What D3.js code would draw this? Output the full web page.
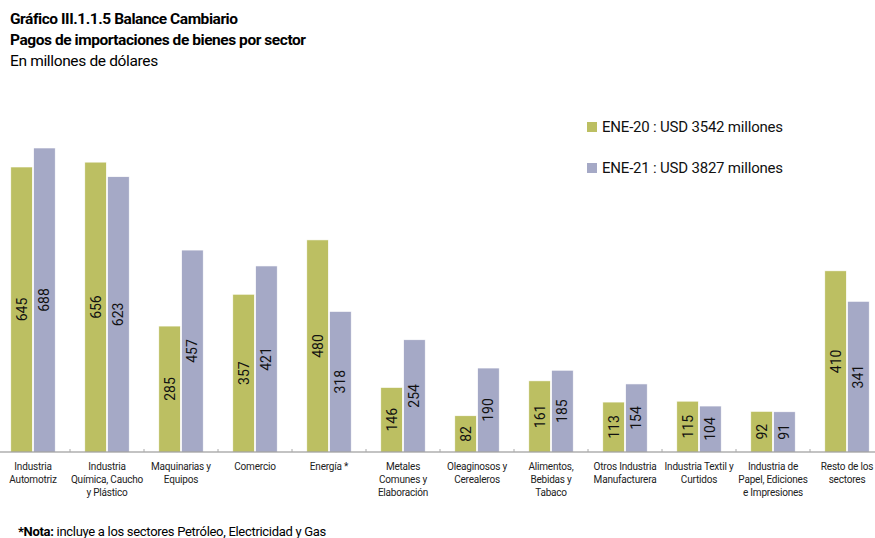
<!DOCTYPE html>
<html>
<head>
<meta charset="utf-8">
<script src="https://d3js.org/d3.v7.min.js"></script>
<style>
  body { margin: 0; background: #fff; }
  svg { display: block; font-family: Roboto, "Liberation Sans", sans-serif; }
</style>
</head>
<body>
<div id="holder"></div>
<script>
  // Data
  const sectors = [
    ['Industria', 'Automotriz'],
    ['Industria', 'Química, Caucho', 'y Plástico'],
    ['Maquinarias y', 'Equipos'],
    ['Comercio'],
    ['Energía *'],
    ['Metales', 'Comunes y', 'Elaboración'],
    ['Oleaginosos y', 'Cerealeros'],
    ['Alimentos,', 'Bebidas y', 'Tabaco'],
    ['Otros Industria', 'Manufacturera'],
    ['Industria Textil y', 'Curtidos'],
    ['Industria de', 'Papel, Ediciones', 'e Impresiones'],
    ['Resto de los', 'sectores']
  ];
  const ene20 = [645, 656, 285, 357, 480, 146, 82, 161, 113, 115, 92, 410];
  const ene21 = [688, 623, 457, 421, 318, 254, 190, 185, 154, 104, 91, 341];
  const seriesNames = ['ENE-20 : USD 3542 millones', 'ENE-21 : USD 3827 millones'];
  const colors = ['#bcbf62', '#a5a9c6'];

  // Variables
  const w = 875;
  const h = 538;
  const baseY = 452;

  const svg = d3.select('#holder').append('svg').attr('width', w).attr('height', h);

  // Titles
  svg.append('text').attr('x', 10).attr('y', 24)
    .style('font-size', '15.5px').style('font-weight', 'bold').style('letter-spacing', '-0.45px')
    .text('Gráfico III.1.1.5 Balance Cambiario');
  svg.append('text').attr('x', 10).attr('y', 45)
    .style('font-size', '15.5px').style('font-weight', 'bold').style('letter-spacing', '-0.45px')
    .text('Pagos de importaciones de bienes por sector');
  svg.append('text').attr('x', 10).attr('y', 66)
    .style('font-size', '15.5px').style('letter-spacing', '-0.35px')
    .text('En millones de dólares');

  const idx = d3.range(sectors.length);
  const x0 = d3.scaleBand().domain(idx).range([-4, 884]).paddingInner(0.4).paddingOuter(0.2);
  const x1 = d3.scaleBand().domain([0, 1]).range([0, x0.bandwidth()]).paddingInner(0.06);
  const y = d3.scaleLinear().domain([0, 688]).range([baseY, 148]);

  const rows = idx.map((i) => [ene20[i], ene21[i]]);

  const groups = svg.selectAll('g.grp').data(rows).enter().append('g')
    .attr('class', 'grp')
    .attr('transform', (d, i) => 'translate(' + x0(i) + ',0)');

  groups.selectAll('rect').data((d) => d).enter().append('rect')
    .attr('x', (d, j) => x1(j))
    .attr('y', (d) => y(d))
    .attr('width', x1.bandwidth())
    .attr('height', (d) => baseY - y(d))
    .style('fill', (d, j) => colors[j])
    .style('stroke', '#fff')
    .style('stroke-width', 0.6);

  // Value labels
  groups.selectAll('text.val').data((d) => d).enter().append('text')
    .attr('class', 'val')
    .attr('transform', (d, j) => 'translate(' + (x1(j) + x1.bandwidth() / 2) + ',' + ((y(d) + baseY) / 2) + ') rotate(-90)')
    .attr('text-anchor', 'middle')
    .attr('dy', '0.36em')
    .style('font-size', '14px')
    .style('fill', '#111')
    .text((d) => d);

  // Axis
  const xAxis = d3.axisBottom(d3.scaleBand().domain(idx).range([-4, 884]))
    .tickSize(0).tickFormat('');
  svg.append('g').attr('id', 'x-axis')
    .attr('transform', 'translate(0,' + baseY + ')')
    .call(xAxis)
    .call((g) => g.select('.domain').attr('d', 'M0,0H' + w).style('stroke', '#888').style('stroke-width', 1.2));

  // tick marks between categories
  svg.selectAll('line.sep').data(idx.slice(1)).enter().append('line')
    .attr('x1', (i) => x0(i) - x0.step() * x0.paddingInner() / 2)
    .attr('x2', (i) => x0(i) - x0.step() * x0.paddingInner() / 2)
    .attr('y1', baseY - 3).attr('y2', baseY)
    .style('stroke', '#aaa');

  // Category labels
  const cat = svg.selectAll('text.cat').data(sectors).enter().append('text')
    .attr('class', 'cat')
    .attr('text-anchor', 'middle')
    .attr('y', 470)
    .style('font-size', '10px')
    .style('letter-spacing', '-0.2px')
    .style('fill', '#222');
  cat.selectAll('tspan').data((d, i) => d.map((s) => ({ s: s, i: i }))).enter().append('tspan')
    .attr('x', (d) => x0(d.i) + x0.bandwidth() / 2)
    .attr('dy', (d, k) => (k === 0 ? 0 : 13))
    .text((d) => d.s);

  // Legend
  const legend = svg.selectAll('g.leg').data(seriesNames).enter().append('g')
    .attr('class', 'leg')
    .attr('transform', (d, i) => 'translate(587,' + (122 + i * 41) + ')');
  legend.append('rect').attr('width', 10).attr('height', 10).style('fill', (d, i) => colors[i]);
  legend.append('text').attr('x', 15).attr('y', 10)
    .style('font-size', '15px').style('letter-spacing', '-0.2px').style('fill', '#111')
    .text((d) => d);

  // Note
  const note = svg.append('text').attr('x', 18).attr('y', 536)
    .style('font-size', '13px').style('letter-spacing', '-0.3px');
  note.append('tspan').style('font-weight', 'bold').text('*Nota:');
  note.append('tspan').text(' incluye a los sectores Petróleo, Electricidad y Gas');
</script>
</body>
</html>
